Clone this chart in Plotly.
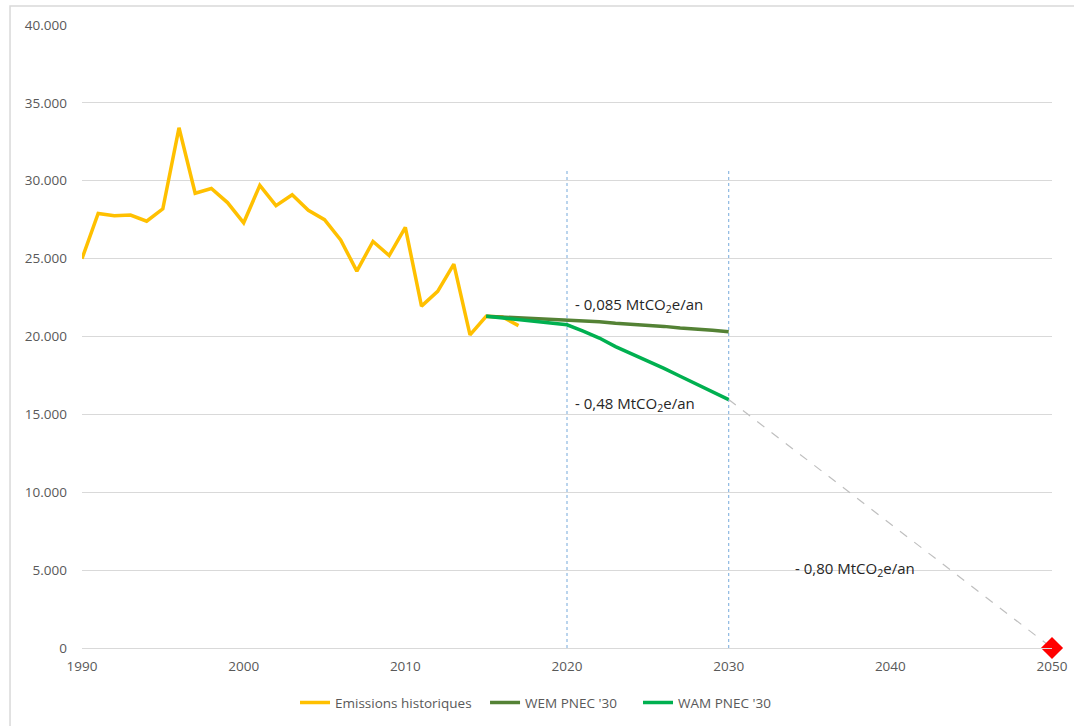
import plotly.graph_objects as go

# Historical emissions (ktCO2e)
hist_years = list(range(1990, 2018))
hist_values = [25000, 27900, 27750, 27800, 27400, 28200, 33400, 29200, 29500, 28600,
               27300, 29700, 28400, 29100, 28100, 27500, 26200, 24200, 26100, 25200,
               27000, 21950, 22900, 24650, 20100, 21300, 21250, 20700]

# Projections
proj_years = list(range(2015, 2031))
wem_values = [21300, 21250, 21200, 21180, 21150, 21100, 21000, 20950, 20850, 20800,
              20700, 20650, 20550, 20500, 20400, 20300]
wam_values = [21300, 21200, 21050, 20950, 20850, 20750, 20350, 19900, 19350, 18900,
              18450, 17950, 17450, 16950, 16450, 15950]

# Path to neutrality
target_years = [2030, 2050]
target_values = [15950, 0]

vline_years = [2020, 2030]
vline_top = 30800

y_ticks = [0, 5000, 10000, 15000, 20000, 25000, 30000, 35000, 40000]
x_ticks = [1990, 2000, 2010, 2020, 2030, 2040, 2050]

labels = [
    (2020.7, 22050, "- 0,085 MtCO<sub>2</sub>e/an"),
    (2020.7, 15650, "- 0,48 MtCO<sub>2</sub>e/an"),
    (2034.3, 5050, "- 0,80 MtCO<sub>2</sub>e/an"),
]

FONT = "Open Sans"
GREY = "#595959"

fig = go.Figure()

for yr in vline_years:
    fig.add_trace(go.Scatter(
        x=[yr, yr], y=[0, vline_top], mode="lines",
        line=dict(color="#8DB8E2", width=1.2, dash="dot"),
        showlegend=False, hoverinfo="skip"))

fig.add_trace(go.Scatter(
    x=target_years, y=target_values, mode="lines",
    line=dict(color="#BFBFBF", width=1.2, dash="dash"),
    showlegend=False, hoverinfo="skip"))

fig.add_trace(go.Scatter(
    x=hist_years, y=hist_values, mode="lines", name="Emissions historiques",
    line=dict(color="#FFC000", width=3.5), legend="legend"))
fig.add_trace(go.Scatter(
    x=proj_years, y=wem_values, mode="lines", name="WEM PNEC '30",
    line=dict(color="#548235", width=3.5), legend="legend2"))
fig.add_trace(go.Scatter(
    x=proj_years, y=wam_values, mode="lines", name="WAM PNEC '30",
    line=dict(color="#00B050", width=3.5), legend="legend3"))

fig.add_trace(go.Scatter(
    x=[target_years[-1]], y=[target_values[-1]], mode="markers",
    marker=dict(symbol="diamond", size=17, color="#FF0000"),
    showlegend=False, cliponaxis=False))

for x, y, text in labels:
    fig.add_annotation(x=x, y=y, text=text, showarrow=False, xanchor="left",
                       yanchor="middle", xshift=-5,
                       font=dict(family=FONT, size=15, color="#262626"))

# outer frame of the chart area
fig.add_shape(type="rect", xref="paper", yref="paper",
              x0=-0.0742, x1=1.2, y0=-0.3, y1=1.0305,
              line=dict(color="#D9D9D9", width=1.5), layer="below")

legend_style = dict(orientation="h", y=-0.088, yanchor="middle", xanchor="left",
                    font=dict(family=FONT, size=13.5, color=GREY), itemwidth=30,
                    bgcolor="rgba(0,0,0,0)")

fig.update_layout(
    width=1074, height=726,
    margin=dict(l=82, r=22, t=25, b=78, autoexpand=False),
    paper_bgcolor="white", plot_bgcolor="white",
    separators=",.",
    font=dict(family=FONT, size=13.5, color=GREY),
    legend=dict(x=0.2196, **legend_style),
    legend2=dict(x=0.4155, **legend_style),
    legend3=dict(x=0.5732, **legend_style),
    xaxis=dict(range=[1990, 2050], tickvals=x_ticks, tickformat="d",
               showgrid=False, zeroline=False, showline=True, linecolor="#D9D9D9",
               linewidth=1, ticks="", ticklabelstandoff=6,
               tickfont=dict(size=13.5, color=GREY)),
    yaxis=dict(range=[0, 40000], tickvals=y_ticks, tickformat=",d",
               showgrid=True, gridcolor="#D9D9D9", gridwidth=1, zeroline=False,
               showline=False, ticks="", ticklabelstandoff=14,
               tickfont=dict(size=13.5, color=GREY)),
)

fig.write_html("out.html")
